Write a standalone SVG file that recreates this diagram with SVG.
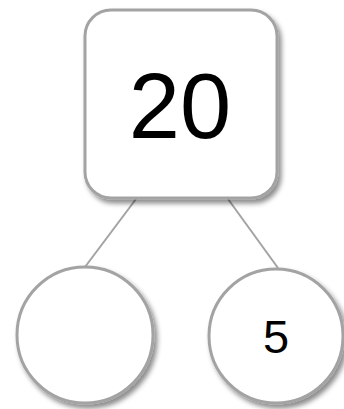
<svg xmlns="http://www.w3.org/2000/svg" width="344" height="409" viewBox="0 0 344 409">
<style>
.node{fill:#ffffff;stroke:#a3a3a3;stroke-width:3;filter:url(#sh)}
.edge{stroke:#a3a3a3;stroke-width:2;fill:none}
.lbl{font-family:"Liberation Sans",Arial,sans-serif;fill:#000;text-anchor:middle}
</style>
<defs>
<filter id="sh" x="-20%" y="-20%" width="150%" height="150%">
<feDropShadow dx="3" dy="4" stdDeviation="2.5" flood-color="#000" flood-opacity="0.45"/>
</filter>
</defs>
<g id="connectors">
<line class="edge" x1="136" y1="199" x2="85" y2="267"/>
<line class="edge" x1="228" y1="199" x2="278" y2="268"/>
</g>
<g id="node-20">
<rect class="node" x="85" y="10" width="192" height="188" rx="26" ry="26"/>
<text class="lbl" x="180" y="138" font-size="92">20</text>
</g>
<g id="node-blank">
<circle class="node" cx="85" cy="335" r="68"/>
</g>
<g id="node-5">
<circle class="node" cx="276" cy="336" r="67"/>
<text class="lbl" x="276" y="353" font-size="47">5</text>
</g>
</svg>
